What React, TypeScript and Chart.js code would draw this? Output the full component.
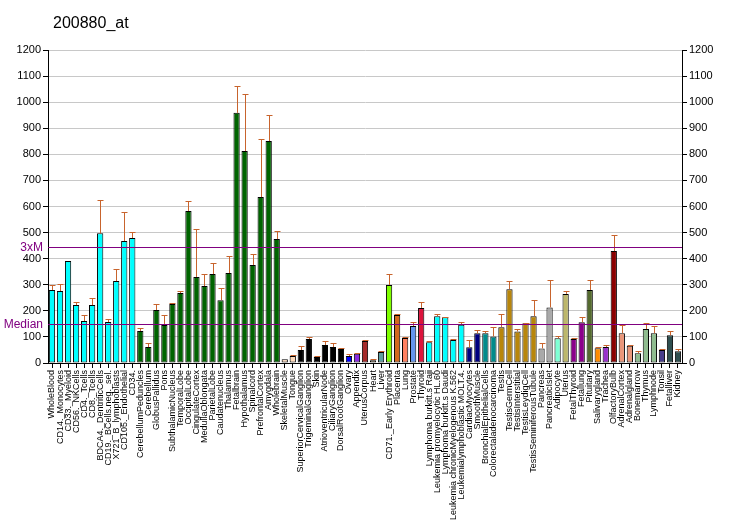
import React, { useEffect, useRef } from "react";
import { Chart, registerables } from "chart.js";

Chart.register(...registerables);

const title = "200880_at";

const categories = [
  "WholeBlood", "CD14._Monocytes", "CD33._Myeloid", "CD56._NKCells", "CD4._Tcells", "CD8._Tcells",
  "BDCA4._DentriticCells", "CD19._BCells.neg._sel.", "X721_B_lymphoblasts", "CD105._Endothelial", "CD34.",
  "CerebellumPeduncles", "Cerebellum", "GlobusPallidus", "Pons", "SubthalamicNucleus", "TemporalLobe",
  "OccipitalLobe", "CingulateCortex", "MedullaOblongata", "ParietalLobe", "Caudatenucleus", "Thalamus",
  "Fetalbrain", "Hypothalamus", "Spinalcord", "PrefrontalCortex", "Amygdala", "Wholebrain",
  "SkeletalMuscle", "Tongue", "SuperiorCervicalGanglion", "TrigeminalGanglion", "Skin",
  "AtrioventricularNode", "CiliaryGanglion", "DorsalRootGanglion", "Ovary", "Appendix", "UterusCorpus",
  "Heart", "Liver", "CD71._Early Erythroid", "Placenta", "Lung", "Prostate", "Thyroid",
  "Lymphoma burkitt.s Raji", "Leukemia promyelocytic HL.60", "Lymphoma burkitt.s Daudi",
  "Leukemia chronicMyelogenous K.562", "Leukemialymphoblastic MOLT.4.", "CardiacMyocytes", "SmoothMuscle",
  "BronchialEpithelialCells", "Colorectaladenocarcinoma", "Testis", "TestisGermCell", "TestisInterstitial",
  "TestisLeydigCell", "TestisSeminiferousTubule", "Pancreas", "PancreaticIslet", "Adipocyte", "Uterus",
  "FetalThyroid", "Fetallung", "Pituitary", "Salivarygland", "Trachea", "OlfactoryBulb", "AdrenalCortex",
  "Adrenalgland", "Bonemarrow", "Thymus", "Lymphnode", "Tonsil", "Fetalliver", "Kidney",
];

const values = [
  280, 276, 391, 222, 161, 222, 497, 157, 314, 468, 479,
  123, 61, 203, 146, 226, 268, 583, 330, 295, 341, 241, 345, 959, 813, 376, 636, 851, 475,
  14, 27, 50, 92, 23, 69, 61, 54, 27, 35, 84, 11, 42, 299, 184, 96, 142, 211,
  80, 179, 175, 88, 147, 60, 114, 114, 102, 137, 283, 121, 152, 179, 56, 213, 95, 265,
  92, 156, 280, 57, 61, 429, 114, 66, 37, 130, 114, 50, 106, 45,
];

const errorTops = [
  298, 302, 391, 233, 183, 248, 624, 167, 359, 579, 501,
  133, 75, 225, 183, 229, 276, 620, 512, 341, 383, 286, 410, 1062, 1030, 418, 859, 951, 505,
  14, 31, 65, 98, 26, 84, 77, 57, 35, 38, 88, 15, 46, 341, 188, 100, 157, 234,
  84, 189, 178, 92, 156, 87, 128, 121, 137, 187, 313, 129, 154, 240, 75, 317, 102, 275,
  96, 175, 317, 61, 69, 489, 147, 70, 45, 152, 141, 54, 123, 54,
];

const barColors = [
  ...Array(11).fill("#00FFFF"),
  ...Array(18).fill("#006400"),
  "#FFDAB9", "#FFDAB9",
  "#000000", "#000000", "#000000", "#000000", "#000000", "#000000",
  "#0000FF", "#8A2BE2", "#A52A2A", "#F5DEB3", "#5F9EA0", "#7FFF00", "#D2691E", "#FF8060", "#6495ED", "#DC143C",
  "#00FFFF", "#00FFFF", "#00FFFF", "#00FFFF", "#00FFFF",
  "#000080", "#000080", "#008B8B", "#008B8B",
  "#B8860B", "#B8860B", "#B8860B", "#B8860B", "#B8860B",
  "#A9A9A9", "#A9A9A9", "#7FFFD4", "#BDB76B", "#8B008B", "#8B008B", "#556B2F", "#FF8C00", "#9932CC",
  "#8B0000", "#E9967A", "#E9967A", "#8FBC8F", "#8FBC8F", "#8FBC8F", "#483D8B", "#2F4F4F", "#2F4F4F",
];

const yMin = 0;
const yMax = 1200;
const yStep = 100;
const medianValue = 148;
const threeXMValue = 444;

const FONT = "'Liberation Sans', Arial, sans-serif";

const overlayPlugin = {
  id: "overlay",
  afterDatasetsDraw(chart: any) {
    const { ctx, chartArea, scales } = chart;
    const x = scales.x;
    const y = scales.y;
    ctx.save();
    ctx.strokeStyle = "#C8642D";
    ctx.lineWidth = 1;
    for (let i = 0; i < values.length; i++) {
      if (errorTops[i] <= values[i]) continue;
      const px = Math.round(x.getPixelForValue(i)) + 0.5;
      const yb = y.getPixelForValue(values[i]);
      const yt = Math.round(y.getPixelForValue(errorTops[i])) + 0.5;
      ctx.beginPath();
      ctx.moveTo(px, yb);
      ctx.lineTo(px, yt);
      ctx.moveTo(px - 3, yt);
      ctx.lineTo(px + 3, yt);
      ctx.stroke();
    }
    ctx.strokeStyle = "#800080";
    ctx.lineWidth = 1;
    ctx.fillStyle = "#800080";
    ctx.font = `12px ${FONT}`;
    ctx.textAlign = "right";
    ctx.textBaseline = "middle";
    const lines: [number, string][] = [
      [threeXMValue, "3xM"],
      [medianValue, "Median"],
    ];
    for (const [v, label] of lines) {
      const py = Math.round(y.getPixelForValue(v)) + 0.5;
      ctx.beginPath();
      ctx.moveTo(chartArea.left, py);
      ctx.lineTo(chartArea.right, py);
      ctx.stroke();
      ctx.fillText(label, chartArea.left - 5, py);
    }
    ctx.fillStyle = "#000";
    ctx.font = `16px ${FONT}`;
    ctx.textAlign = "left";
    ctx.textBaseline = "alphabetic";
    ctx.fillText(title, 53, 28);
    ctx.restore();
  },
};

const plainTick = (v: any) => String(v);

export default function App() {
  const ref = useRef<HTMLCanvasElement | null>(null);
  useEffect(() => {
    if (!ref.current) return;
    const chart = new Chart(ref.current, {
      type: "bar",
      data: {
        labels: categories,
        datasets: [
          {
            data: values,
            backgroundColor: barColors,
            borderColor: "#000",
            borderWidth: 1,
            borderSkipped: false,
            categoryPercentage: 1,
            barPercentage: 0.78,
            yAxisID: "y",
          },
        ],
      },
      options: {
        responsive: false,
        animation: false,
        layout: { padding: { top: 50, left: 0, right: 0, bottom: 0 } },
        plugins: { legend: { display: false }, tooltip: { enabled: false }, title: { display: false } },
        scales: {
          x: {
            offset: true,
            grid: { drawOnChartArea: false, offset: false, tickLength: 5, tickColor: "#000" },
            border: { color: "#000" },
            ticks: {
              autoSkip: false,
              minRotation: 90,
              maxRotation: 90,
              padding: 2,
              color: "#000",
              font: { family: FONT, size: 9 },
            },
            afterFit(s: any) {
              s.height = 167;
            },
          },
          y: {
            position: "left",
            min: yMin,
            max: yMax,
            grid: { color: "#C8C8C8", tickLength: 5, tickColor: "#000" },
            border: { color: "#000" },
            ticks: { stepSize: yStep, padding: 2, color: "#000", font: { family: FONT, size: 11 }, callback: plainTick },
            afterFit(s: any) {
              s.width = 48;
            },
          },
          y2: {
            position: "right",
            min: yMin,
            max: yMax,
            grid: { drawOnChartArea: false, tickLength: 5, tickColor: "#000" },
            border: { color: "#000" },
            ticks: { stepSize: yStep, padding: 2, color: "#000", font: { family: FONT, size: 11 }, callback: plainTick },
            afterFit(s: any) {
              s.width = 50;
            },
          },
        },
      },
      plugins: [overlayPlugin],
    });
    return () => chart.destroy();
  }, []);
  return (
    <div style={{ position: "absolute", left: 0, top: 0, width: 732, height: 530, background: "#fff" }}>
      <canvas ref={ref} width={732} height={530} style={{ display: "block" }} />
    </div>
  );
}
